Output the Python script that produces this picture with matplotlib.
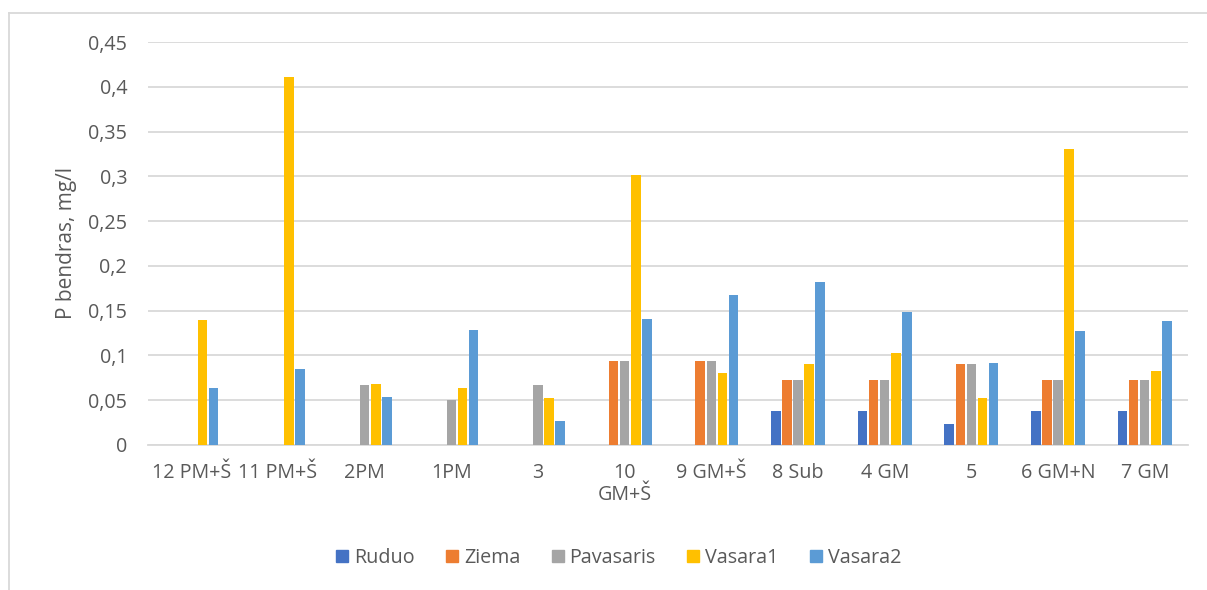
import numpy as np
import matplotlib.pyplot as plt
from matplotlib.lines import Line2D
from matplotlib.ticker import FuncFormatter

plt.rcParams['font.family'] = ['Open Sans', 'DejaVu Sans']

categories = ["12 PM+Š", "11 PM+Š", "2PM", "1PM", "3", "10\nGM+Š",
              "9 GM+Š", "8 Sub", "4 GM", "5", "6 GM+N", "7 GM"]
nan = np.nan
ruduo = [nan, nan, nan, nan, nan, nan, nan, 0.038, 0.038, 0.023, 0.038, 0.038]
ziema = [nan, nan, nan, nan, nan, 0.094, 0.094, 0.073, 0.073, 0.090, 0.073, 0.073]
pavasaris = [nan, nan, 0.067, 0.050, 0.067, 0.094, 0.094, 0.073, 0.073, 0.090, 0.073, 0.073]
vasara1 = [0.140, 0.411, 0.068, 0.064, 0.053, 0.301, 0.080, 0.090, 0.103, 0.053, 0.331, 0.083]
vasara2 = [0.064, 0.085, 0.054, 0.128, 0.027, 0.141, 0.168, 0.182, 0.148, 0.092, 0.127, 0.139]

series_names = ["Ruduo", "Ziema", "Pavasaris", "Vasara1", "Vasara2"]
colors = ["#4472C4", "#ED7D31", "#A5A5A5", "#FFC000", "#5B9BD5"]
yticks = [0, 0.05, 0.1, 0.15, 0.2, 0.25, 0.3, 0.35, 0.4, 0.45]

text_color = "#595959"
grid_color = "#D9D9D9"
fs = 14.2

fig = plt.figure(figsize=(12.07, 5.90), dpi=100)
ax = fig.add_axes([0.1226, 0.2458, 0.8617, 0.683])

x = np.arange(len(categories))
slot = 0.128
bar_w = 0.11
for i, (vals, name, c) in enumerate(zip([ruduo, ziema, pavasaris, vasara1, vasara2],
                                        series_names, colors)):
    ax.bar(x + (i - 2) * slot, vals, width=bar_w, color=c, label=name, zorder=3)

ax.set_xlim(-0.5, len(categories) - 0.5)
ax.set_ylim(0, 0.45)
ax.set_yticks(yticks)
ax.yaxis.set_major_formatter(FuncFormatter(lambda v, p: ("%g" % round(v, 2)).replace(".", ",")))
ax.set_xticks(x)
ax.set_xticklabels(categories, linespacing=1.1)
ax.grid(axis="y", color=grid_color, linewidth=1.3, zorder=0)
for s in ["top", "right", "left"]:
    ax.spines[s].set_visible(False)
ax.spines["bottom"].set_color(grid_color)
ax.spines["bottom"].set_linewidth(1.3)
ax.tick_params(axis="both", length=0, labelsize=fs, colors=text_color)
ax.tick_params(axis="x", pad=13)
ax.tick_params(axis="y", pad=15)
ax.set_ylabel("P bendras, mg/l", fontsize=15, color=text_color, labelpad=8)

handles = [Line2D([], [], marker="s", linestyle="none", markersize=9,
                  markerfacecolor=c, markeredgecolor=c) for c in colors]
fig.legend(handles, series_names, loc="center", bbox_to_anchor=(0.511, 0.054),
           ncol=5, frameon=False, fontsize=fs, labelcolor=text_color,
           handletextpad=0.1, columnspacing=1.4, handlelength=1.0)

# chart-area border (top and left edges only visible in the crop)
fig.add_artist(Line2D([9 / 1207, 1.0], [1 - 13 / 590, 1 - 13 / 590],
                      transform=fig.transFigure, color=grid_color, linewidth=1.3))
fig.add_artist(Line2D([9 / 1207, 9 / 1207], [0, 1 - 13 / 590],
                      transform=fig.transFigure, color=grid_color, linewidth=1.3))

fig.savefig("out.png", dpi=100)
